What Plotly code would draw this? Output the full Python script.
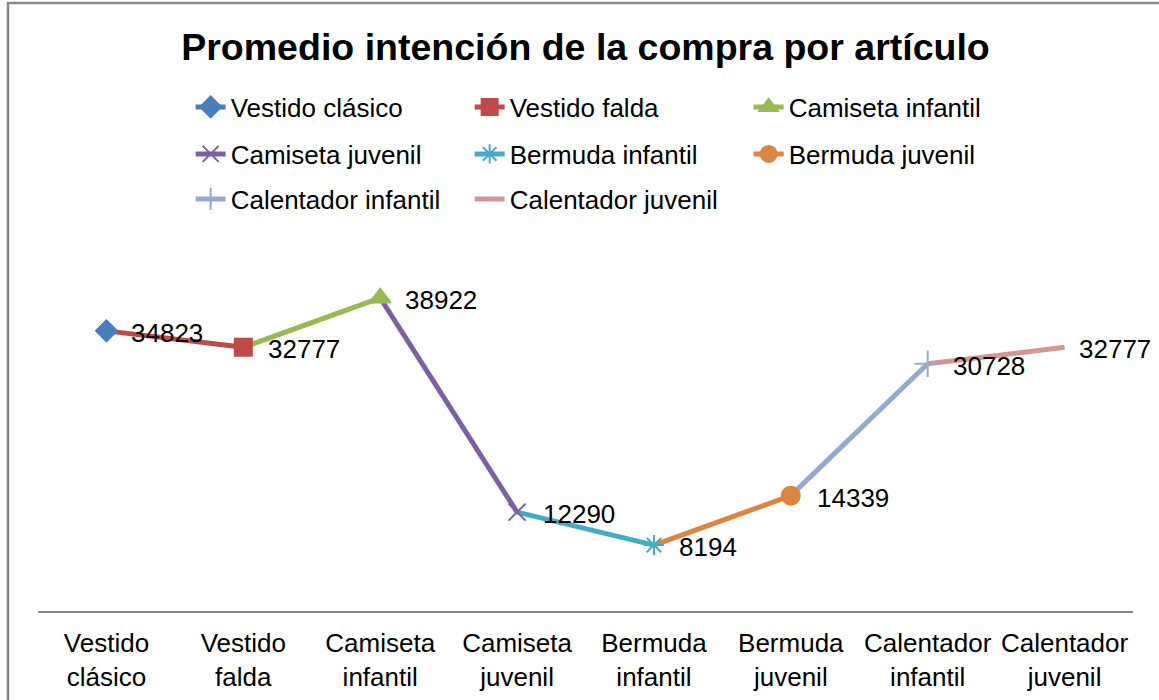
import plotly.graph_objects as go

# categories / values
articulos = ['Vestido clásico', 'Vestido falda', 'Camiseta infantil', 'Camiseta juvenil',
             'Bermuda infantil', 'Bermuda juvenil', 'Calentador infantil', 'Calentador juvenil']
tick_text = ['Vestido<br>clásico', 'Vestido<br>falda', 'Camiseta<br>infantil', 'Camiseta<br>juvenil',
             'Bermuda<br>infantil', 'Bermuda<br>juvenil', 'Calentador<br>infantil', 'Calentador<br>juvenil']
promedio = [34823, 32777, 38922, 12290, 8194, 14339, 30728, 32777]

# styling (excel-ish palette, one colour per point)
colores = ['#4A7EBB', '#BE4B48', '#98B954', '#7D60A0', '#46AAC5', '#DB8540', '#93A9D0', '#D49593']
simbolos = ['diamond', 'square', 'triangle-up', 'x-thin-open', 'asterisk-open', 'circle', 'cross-thin-open', None]
tamanos = [16, 17, 18, 17, 17, 18, 19, 0]
label_dx = [23, 23, 23, 24, 23, 24, 23, 12]

FONT = 'Liberation Sans, Arial, sans-serif'

fig = go.Figure()

# line segments: segment leading into point i uses colour of point i
for i in range(1, len(articulos)):
    fig.add_trace(go.Scatter(
        x=[articulos[i - 1], articulos[i]],
        y=[promedio[i - 1], promedio[i]],
        mode='lines',
        line=dict(color=colores[i], width=5),
        showlegend=False,
        hoverinfo='skip',
    ))

# markers + legend entries (3 legends = 3 rows)
for i, art in enumerate(articulos):
    leg = 'legend' if i < 3 else ('legend2' if i < 6 else 'legend3')
    if simbolos[i] is None:
        mode = 'lines'
        marker = None
    else:
        mode = 'lines+markers'
        marker = dict(symbol=simbolos[i], size=tamanos[i], color=colores[i],
                      line=dict(color=colores[i], width=2))
    fig.add_trace(go.Scatter(
        x=[art], y=[promedio[i]],
        mode=mode,
        name=art,
        line=dict(color=colores[i], width=5),
        marker=marker,
        legend=leg,
        hovertemplate='%{x}: <b>%{y}</b><extra></extra>',
    ))

for i, art in enumerate(articulos):
    fig.add_annotation(x=art, y=promedio[i], text=str(promedio[i]),
                       showarrow=False, xanchor='left', yanchor='middle',
                       xshift=label_dx[i], yshift=-2,
                       font=dict(family=FONT, size=26, color='black'))

leg_common = dict(orientation='h', xref='container', yref='container',
                  xanchor='left', yanchor='middle', x=0.1645,
                  entrywidth=234, entrywidthmode='pixels',
                  font=dict(family=FONT, size=26, color='black'),
                  bgcolor='rgba(0,0,0,0)', itemclick=False, itemdoubleclick=False)

fig.update_layout(
    width=1159, height=700,
    margin=dict(l=38, r=26, t=249, b=89),
    plot_bgcolor='white', paper_bgcolor='white',
    font=dict(family=FONT, size=26, color='black'),
    title=dict(text='<b>Promedio intención de la compra por artículo</b>',
               font=dict(family=FONT, size=37.5, color='black'),
               x=0.5, xref='paper', xanchor='center',
               y=1 - 47 / 700, yanchor='middle'),
    legend=dict(leg_common, y=1 - 107 / 700),
    legend2=dict(leg_common, y=1 - 154 / 700),
    legend3=dict(leg_common, y=1 - 199 / 700),
    xaxis=dict(type='category', categoryorder='array', categoryarray=articulos,
               range=[-0.5, len(articulos) - 0.5],
               tickvals=articulos, ticktext=tick_text,
               showgrid=False, zeroline=False, showline=True,
               linecolor='#868686', linewidth=2, ticks='',
               ticklabelstandoff=8, automargin=False,
               tickfont=dict(family=FONT, size=26, color='black')),
    yaxis=dict(range=[0, 45000], visible=False, showgrid=False, zeroline=False,
               automargin=False),
    shapes=[dict(type='rect', xref='paper', yref='paper',
                 x0=-0.0274, x1=1.2, y0=-0.5, y1=(611 - 3) / 362,
                 line=dict(color='#868686', width=2.5), layer='below')],
    showlegend=True,
)

# drop the browser's default body margin so the figure sits at 0,0
fig.write_html('out.html', config={'displayModeBar': False},
               post_script="document.body.style.margin='0px';")
